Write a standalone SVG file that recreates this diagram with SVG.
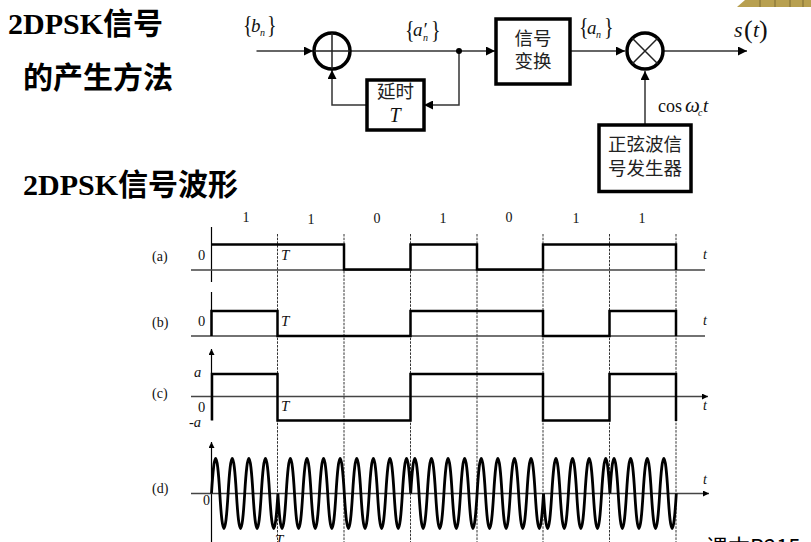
<svg xmlns="http://www.w3.org/2000/svg" width="811" height="542" viewBox="0 0 811 542">
<defs>
<style>
.title{font-family:"Liberation Serif","Noto Sans CJK SC",serif;font-weight:700;font-size:30px;fill:#000}
.cjk{font-family:"Noto Sans CJK SC",sans-serif;font-size:18.5px;fill:#222;text-anchor:middle}
.m{font-family:"Liberation Serif",serif;font-style:italic;fill:#111}
.r{font-family:"Liberation Serif",serif;fill:#111}
.box{fill:#fff;stroke:#000;stroke-width:3.5}
.ring{fill:#fff;stroke:#000;stroke-width:3.5}
.line{fill:none;stroke:#333;stroke-width:1.5}
.ax{fill:none;stroke:#444;stroke-width:1.3}
.ya{fill:none;stroke:#000;stroke-width:1.2}
.dash{fill:none;stroke:#333;stroke-width:1;stroke-dasharray:2.5 1.2}
.wave{fill:none;stroke:#000;stroke-width:2.5}
.sine{fill:none;stroke:#000;stroke-width:2.8}
</style>
<marker id="a" viewBox="0 0 10 10" refX="10" refY="5" markerWidth="9" markerHeight="9" markerUnits="userSpaceOnUse" orient="auto"><path d="M0 0L10 5L0 10Z" fill="#000"/></marker>
<marker id="s" viewBox="0 0 10 10" refX="10" refY="5" markerWidth="6" markerHeight="6" markerUnits="userSpaceOnUse" orient="auto"><path d="M0 0L10 5L0 10Z" fill="#000"/></marker>
</defs>
<rect width="811" height="542" fill="#fff"/>
<path d="M737 7L745 0H811V7Z" fill="#b8a050"/>
<path d="M760 0V7M775 0V7M790 0V7M803 0V7" stroke="#7d6b33" stroke-width="1"/>
<text class="title" x="8" y="34">2DPSK信号</text>
<text class="title" x="23" y="88">的产生方法</text>
<text class="title" x="23" y="195">2DPSK信号波形</text>

<g id="connectors">
<path class="line" d="M256.500 51H313" marker-end="url(#a)"/>
<path class="line" d="M350 51H495" marker-end="url(#a)"/>
<path class="line" d="M459 51V105H424" marker-end="url(#a)"/>
<path class="line" d="M367 105H332V70" marker-end="url(#a)"/>
<path class="line" d="M570 51H625" marker-end="url(#a)"/>
<path class="line" d="M664 51H747" marker-end="url(#a)"/>
<path class="line" d="M645 125V71" marker-end="url(#a)"/>
<circle cx="459" cy="51" r="3" fill="#000"/>
</g>
<g id="xor"><circle class="ring" cx="332" cy="51" r="18"/><path d="M314 51H350M332 33V69" stroke="#222" stroke-width="1.5"/></g>
<g id="mixer"><circle class="ring" cx="645" cy="51" r="18"/><path d="M632.300 38.300L657.700 63.700M632.300 63.700L657.700 38.300" stroke="#222" stroke-width="1.500"/></g>
<g id="delay"><rect class="box" x="367" y="80" width="57" height="50"/><text class="cjk" x="395.500" y="98">延时</text><text class="m" x="395" y="122" font-size="20" text-anchor="middle">T</text></g>
<g id="convert"><rect class="box" x="496" y="19" width="74" height="65"/><text class="cjk" x="533" y="45">信号</text><text class="cjk" x="533" y="68">变换</text></g>
<g id="osc"><rect class="box" x="599" y="125" width="92" height="66.500"/><text class="cjk" x="645" y="151">正弦波信</text><text class="cjk" x="645" y="175">号发生器</text></g>
<g id="labels">
<text class="r" x="243" y="33" font-size="25" transform="translate(243 33) scale(.8 1) translate(-243 -33)">{</text><text class="m" x="251" y="32" font-size="19">b</text><text class="m" x="260" y="36" font-size="10">n</text><text class="r" x="267" y="33" font-size="25" transform="translate(267 33) scale(.8 1) translate(-267 -33)">}</text>
<text class="r" x="405" y="38" font-size="25" transform="translate(405 38) scale(.8 1) translate(-405 -38)">{</text><text class="m" x="413" y="36" font-size="19">a′</text><text class="m" x="423" y="41" font-size="10">n</text><text class="r" x="431" y="38" font-size="25" transform="translate(431 38) scale(.8 1) translate(-431 -38)">}</text>
<text class="r" x="579" y="35" font-size="25" transform="translate(579 35) scale(.8 1) translate(-579 -35)">{</text><text class="m" x="587" y="34" font-size="19">a</text><text class="m" x="596" y="38" font-size="10">n</text><text class="r" x="604" y="35" font-size="25" transform="translate(604 35) scale(.8 1) translate(-604 -35)">}</text>
<text class="m" x="734" y="37" font-size="22">s</text><text class="r" x="744" y="38" font-size="26">(</text><text class="m" x="753" y="37" font-size="22">t</text><text class="r" x="759" y="38" font-size="26">)</text>
<text class="r" x="658" y="112" font-size="18">cos</text><text class="m" x="685" y="112" font-size="21">ω</text><text class="m" x="698" y="116" font-size="10">c</text><text class="m" x="703" y="112" font-size="19">t</text>
</g>

<g id="waveforms">
<path class="ya" d="M211.500 227V282M211.500 292V336"/>
<path class="ya" d="M211.500 420V349" marker-end="url(#s)"/>
<path class="ya" d="M211.500 542V442" marker-end="url(#s)"/>
<path class="dash" d="M277.500 234V542M344 234V542M410.500 234V542M477 234V542M543 234V542M609.500 234V542M676 234V542"/>
<path class="ax" d="M191 270H705M191 336H705"/>
<path class="ax" d="M191 396.500H708" marker-end="url(#s)"/>
<path class="ax" d="M191 493.500H709" marker-end="url(#s)"/>
<path class="wave" d="M211.500 244.500H344V269.500H410.500V244.500H477V269.500H543V244.500H676V270"/>
<path class="wave" d="M211.500 336V311H277.500V336H410.500V311H543V336H609.500V311H676V336"/>
<path class="wave" d="M212 420.500V374H277.500V420.500H410.500V374H543V420.500H609.500V374H676V421"/>
<path class="sine" d="M211.500 493.500
c2.800 -46.670 5.500 -46.670 8.300 0c2.800 46.670 5.500 46.670 8.300 0c2.800 -46.670 5.500 -46.670 8.300 0c2.800 46.670 5.500 46.670 8.300 0c2.800 -46.670 5.500 -46.670 8.300 0c2.800 46.670 5.500 46.670 8.300 0c2.800 -46.670 5.500 -46.670 8.300 0c2.800 46.670 5.500 46.670 8.300 0
c2.800 46.670 5.500 46.670 8.300 0c2.800 -46.670 5.500 -46.670 8.300 0c2.800 46.670 5.500 46.670 8.300 0c2.800 -46.670 5.500 -46.670 8.300 0c2.800 46.670 5.500 46.670 8.300 0c2.800 -46.670 5.500 -46.670 8.300 0c2.800 46.670 5.500 46.670 8.300 0c2.800 -46.670 5.500 -46.670 8.300 0
c2.800 46.670 5.500 46.670 8.300 0c2.800 -46.670 5.500 -46.670 8.300 0c2.800 46.670 5.500 46.670 8.300 0c2.800 -46.670 5.500 -46.670 8.300 0c2.800 46.670 5.500 46.670 8.300 0c2.800 -46.670 5.500 -46.670 8.300 0c2.800 46.670 5.500 46.670 8.300 0c2.800 -46.670 5.500 -46.670 8.300 0
c2.800 -46.670 5.500 -46.670 8.300 0c2.800 46.670 5.500 46.670 8.300 0c2.800 -46.670 5.500 -46.670 8.300 0c2.800 46.670 5.500 46.670 8.300 0c2.800 -46.670 5.500 -46.670 8.300 0c2.800 46.670 5.500 46.670 8.300 0c2.800 -46.670 5.500 -46.670 8.300 0c2.800 46.670 5.500 46.670 8.300 0
c2.800 -46.670 5.500 -46.670 8.300 0c2.800 46.670 5.500 46.670 8.300 0c2.800 -46.670 5.500 -46.670 8.300 0c2.800 46.670 5.500 46.670 8.300 0c2.800 -46.670 5.500 -46.670 8.300 0c2.800 46.670 5.500 46.670 8.300 0c2.800 -46.670 5.500 -46.670 8.300 0c2.800 46.670 5.500 46.670 8.300 0
c2.800 46.670 5.500 46.670 8.300 0c2.800 -46.670 5.500 -46.670 8.300 0c2.800 46.670 5.500 46.670 8.300 0c2.800 -46.670 5.500 -46.670 8.300 0c2.800 46.670 5.500 46.670 8.300 0c2.800 -46.670 5.500 -46.670 8.300 0c2.800 46.670 5.500 46.670 8.300 0c2.800 -46.670 5.500 -46.670 8.300 0
c2.800 -46.670 5.500 -46.670 8.300 0c2.800 46.670 5.500 46.670 8.300 0c2.800 -46.670 5.500 -46.670 8.300 0c2.800 46.670 5.500 46.670 8.300 0c2.800 -46.670 5.500 -46.670 8.300 0c2.800 46.670 5.500 46.670 8.300 0c2.800 -46.670 5.500 -46.670 8.300 0c2.800 46.670 5.500 46.670 8.300 0"/>
</g>
<g id="wave-labels">
<text class="r" x="246" y="222" text-anchor="middle" font-size="14">1</text><text class="r" x="311" y="224" text-anchor="middle" font-size="14">1</text><text class="r" x="377" y="223" text-anchor="middle" font-size="14">0</text><text class="r" x="443" y="223" text-anchor="middle" font-size="14">1</text><text class="r" x="509" y="222" text-anchor="middle" font-size="14">0</text><text class="r" x="576" y="223" text-anchor="middle" font-size="14">1</text><text class="r" x="642" y="223" text-anchor="middle" font-size="14">1</text>
<text class="r" x="152" y="261" font-size="14">(a)</text><text class="r" x="152" y="327" font-size="14">(b)</text><text class="r" x="152" y="398" font-size="14">(c)</text><text class="r" x="152" y="493" font-size="14">(d)</text>
<text class="r" x="198" y="260" font-size="14.500">0</text><text class="r" x="198" y="326" font-size="14.500">0</text><text class="r" x="198" y="412" font-size="14.500">0</text><text class="r" x="203" y="505" font-size="14">0</text>
<text class="m" x="194" y="377" font-size="14.500">a</text><text class="m" x="189" y="427" font-size="14.500">-a</text>
<text class="m" x="281" y="260" font-size="15">T</text><text class="m" x="281" y="326" font-size="15">T</text><text class="m" x="281" y="411" font-size="15">T</text><text class="m" x="275" y="545" font-size="15">T</text>
<text class="m" x="703" y="259" font-size="14">t</text><text class="m" x="703" y="325" font-size="14">t</text><text class="m" x="703" y="410" font-size="14">t</text><text class="m" x="703" y="484" font-size="14">t</text>
</g>
<text x="706" y="555" font-family="'Noto Sans CJK SC',sans-serif" font-size="22" fill="#000">课本P215</text>
</svg>
